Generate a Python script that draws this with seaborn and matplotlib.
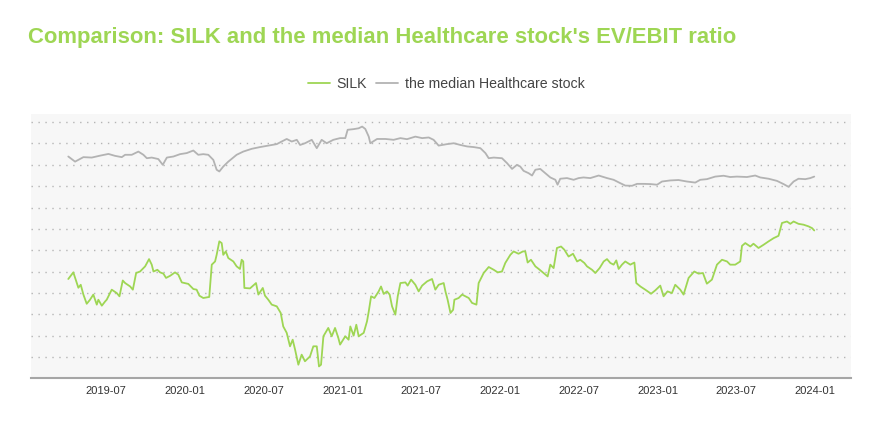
import pandas as pd
import matplotlib
matplotlib.use("Agg")
import matplotlib.pyplot as plt
import matplotlib.dates as mdates
import seaborn as sns

# values (decimal years, ratio in grid units)
silk_t = [2019.256, 2019.288, 2019.320, 2019.335, 2019.352, 2019.373, 2019.394, 2019.415, 2019.437, 2019.447,
          2019.469, 2019.490, 2019.500, 2019.532, 2019.564, 2019.581, 2019.602, 2019.617, 2019.649, 2019.666,
          2019.687, 2019.712, 2019.744, 2019.769, 2019.786, 2019.797, 2019.822, 2019.839, 2019.860, 2019.877,
          2019.903, 2019.934, 2019.955, 2019.977, 2020.019, 2020.051, 2020.072, 2020.089, 2020.114, 2020.152,
          2020.168, 2020.189, 2020.199, 2020.216, 2020.231, 2020.241, 2020.257, 2020.273, 2020.305, 2020.326,
          2020.347, 2020.358, 2020.368, 2020.375, 2020.411, 2020.449, 2020.464, 2020.492, 2020.506, 2020.527,
          2020.549, 2020.581, 2020.606, 2020.622, 2020.644, 2020.665, 2020.682, 2020.697, 2020.718, 2020.739,
          2020.760, 2020.792, 2020.813, 2020.835, 2020.849, 2020.862, 2020.877, 2020.908, 2020.930, 2020.951,
          2020.972, 2020.983, 2021.014, 2021.035, 2021.046, 2021.067, 2021.084, 2021.099, 2021.131, 2021.152,
          2021.163, 2021.178, 2021.199, 2021.226, 2021.241, 2021.258, 2021.279, 2021.296, 2021.311, 2021.332,
          2021.347, 2021.364, 2021.396, 2021.410, 2021.432, 2021.459, 2021.480, 2021.502, 2021.534, 2021.565,
          2021.586, 2021.607, 2021.639, 2021.650, 2021.664, 2021.682, 2021.699, 2021.707, 2021.734, 2021.756,
          2021.777, 2021.798, 2021.819, 2021.847, 2021.861, 2021.893, 2021.925, 2021.957, 2021.982, 2022.010,
          2022.031, 2022.063, 2022.084, 2022.115, 2022.143, 2022.158, 2022.173, 2022.194, 2022.222, 2022.243,
          2022.274, 2022.300, 2022.317, 2022.338, 2022.359, 2022.385, 2022.406, 2022.433, 2022.461, 2022.487,
          2022.507, 2022.533, 2022.550, 2022.582, 2022.603, 2022.630, 2022.656, 2022.677, 2022.698, 2022.719,
          2022.736, 2022.751, 2022.772, 2022.793, 2022.825, 2022.851, 2022.863, 2022.889, 2022.920, 2022.957,
          2022.984, 2023.016, 2023.037, 2023.062, 2023.090, 2023.111, 2023.143, 2023.164, 2023.196, 2023.232,
          2023.259, 2023.287, 2023.312, 2023.344, 2023.376, 2023.408, 2023.440, 2023.460, 2023.492, 2023.524,
          2023.535, 2023.556, 2023.588, 2023.608, 2023.640, 2023.672, 2023.704, 2023.736, 2023.767, 2023.789,
          2023.821, 2023.842, 2023.863, 2023.894, 2023.926, 2023.958, 2023.980, 2023.994]
silk_v = [4.66, 4.97, 4.25, 4.39, 3.93, 3.50, 3.69, 3.93, 3.46, 3.69,
          3.41, 3.61, 3.69, 4.16, 4.00, 3.85, 4.59, 4.47, 4.31, 4.16,
          4.94, 5.01, 5.25, 5.59, 5.33, 5.01, 5.09, 4.97, 4.91, 4.71,
          4.81, 4.97, 4.86, 4.50, 4.43, 4.19, 4.16, 3.88, 3.77, 3.82,
          5.33, 5.48, 5.79, 6.42, 6.34, 5.79, 5.95, 5.64, 5.48, 5.25,
          5.13, 5.56, 5.48, 4.24, 4.22, 4.47, 3.93, 4.24, 3.88, 3.69,
          3.46, 3.38, 3.07, 2.44, 2.14, 1.51, 1.82, 1.36, 0.65, 1.12,
          0.81, 1.04, 1.51, 1.51, 0.57, 0.65, 1.98, 2.37, 1.98, 2.37,
          1.90, 1.59, 1.98, 1.82, 2.44, 2.01, 2.52, 1.98, 2.14, 2.68,
          3.14, 3.85, 3.77, 4.08, 4.31, 3.96, 4.08, 3.93, 3.38, 2.99,
          3.85, 4.47, 4.50, 4.35, 4.63, 4.39, 4.08, 4.35, 4.55, 4.66,
          4.16, 4.39, 4.47, 4.08, 3.69, 3.07, 3.22, 3.69, 3.77, 3.93,
          3.85, 3.77, 3.54, 3.46, 4.47, 4.94, 5.22, 5.09, 4.97, 5.01,
          5.41, 5.79, 5.95, 5.84, 5.95, 5.95, 5.43, 5.56, 5.25, 5.13,
          4.94, 4.78, 5.33, 5.17, 6.11, 6.18, 6.03, 5.71, 5.84, 5.48,
          5.56, 5.41, 5.25, 5.09, 4.94, 5.17, 5.48, 5.59, 5.41, 5.33,
          5.53, 5.13, 5.33, 5.48, 5.33, 5.43, 4.47, 4.31, 4.16, 3.97,
          4.13, 4.35, 3.85, 4.08, 4.00, 4.39, 4.16, 3.93, 4.71, 5.01,
          4.91, 4.94, 4.44, 4.63, 5.33, 5.56, 5.48, 5.33, 5.33, 5.48,
          6.21, 6.34, 6.18, 6.31, 6.11, 6.26, 6.42, 6.57, 6.68, 7.28,
          7.35, 7.24, 7.35, 7.24, 7.20, 7.12, 7.04, 6.93]

median_t = [2019.256, 2019.299, 2019.352, 2019.405, 2019.458, 2019.511, 2019.553, 2019.596, 2019.617, 2019.659,
            2019.701, 2019.733, 2019.755, 2019.786, 2019.828, 2019.856, 2019.882, 2019.924, 2019.966, 2020.009,
            2020.051, 2020.082, 2020.114, 2020.146, 2020.178, 2020.199, 2020.216, 2020.241, 2020.273, 2020.326,
            2020.368, 2020.422, 2020.474, 2020.527, 2020.581, 2020.612, 2020.644, 2020.676, 2020.708, 2020.729,
            2020.760, 2020.803, 2020.835, 2020.866, 2020.898, 2020.940, 2020.983, 2021.014, 2021.029, 2021.067,
            2021.099, 2021.121, 2021.141, 2021.163, 2021.173, 2021.216, 2021.269, 2021.321, 2021.364, 2021.406,
            2021.459, 2021.502, 2021.544, 2021.575, 2021.607, 2021.661, 2021.703, 2021.745, 2021.788, 2021.830,
            2021.872, 2021.904, 2021.925, 2021.957, 2022.010, 2022.042, 2022.074, 2022.105, 2022.126, 2022.147,
            2022.179, 2022.201, 2022.222, 2022.253, 2022.285, 2022.317, 2022.349, 2022.363, 2022.380, 2022.423,
            2022.465, 2022.497, 2022.528, 2022.571, 2022.624, 2022.677, 2022.719, 2022.762, 2022.793, 2022.836,
            2022.868, 2022.910, 2022.952, 2022.995, 2023.027, 2023.079, 2023.132, 2023.185, 2023.238, 2023.270,
            2023.312, 2023.365, 2023.418, 2023.460, 2023.503, 2023.567, 2023.619, 2023.651, 2023.704, 2023.757,
            2023.799, 2023.831, 2023.863, 2023.894, 2023.937, 2023.969, 2023.994]
median_v = [10.39, 10.15, 10.36, 10.34, 10.43, 10.51, 10.42, 10.36, 10.47, 10.47,
            10.62, 10.47, 10.31, 10.34, 10.27, 10.00, 10.34, 10.39, 10.50, 10.55,
            10.67, 10.47, 10.50, 10.47, 10.23, 9.77, 9.69, 9.92, 10.15, 10.47,
            10.62, 10.75, 10.83, 10.90, 10.97, 11.09, 11.21, 11.09, 11.17, 10.93,
            11.01, 11.17, 10.78, 11.17, 11.01, 11.17, 11.25, 11.25, 11.64, 11.67,
            11.71, 11.79, 11.68, 11.32, 11.01, 11.21, 11.21, 11.17, 11.25, 11.20,
            11.32, 11.25, 11.28, 11.17, 10.90, 10.97, 11.01, 10.93, 10.86, 10.83,
            10.78, 10.55, 10.31, 10.34, 10.31, 10.08, 9.81, 10.00, 9.92, 9.72,
            9.61, 9.50, 9.77, 9.81, 9.61, 9.41, 9.30, 9.07, 9.35, 9.38,
            9.30, 9.38, 9.41, 9.38, 9.50, 9.38, 9.30, 9.14, 9.03, 9.02,
            9.11, 9.11, 9.10, 9.07, 9.22, 9.27, 9.29, 9.22, 9.17, 9.30,
            9.33, 9.45, 9.49, 9.43, 9.45, 9.43, 9.50, 9.41, 9.35, 9.25,
            9.10, 8.97, 9.22, 9.35, 9.33, 9.38, 9.45]

series_names = ["SILK", "the median Healthcare stock"]
series_colors = ["#9ed654", "#b3b3b3"]


def to_dates(years):
    years = pd.Series(years)
    base = pd.to_datetime(years.astype(int).astype(str) + "-01-01")
    return base + pd.to_timedelta((years - years.astype(int)) * 365.25, unit="D")


df_silk = pd.DataFrame({"date": to_dates(silk_t), "value": silk_v})
df_med = pd.DataFrame({"date": to_dates(median_t), "value": median_v})

sns.set_style("white")
plt.rcParams["font.family"] = ["Liberation Sans", "DejaVu Sans"]

fig = plt.figure(figsize=(8.8, 4.4), dpi=100)
ax = fig.add_axes([0.0352, 0.141, 0.932, 0.6])
ax.set_facecolor("#f7f7f7")

sns.lineplot(data=df_silk, x="date", y="value", ax=ax, color=series_colors[0],
             linewidth=1.3, label=series_names[0])
sns.lineplot(data=df_med, x="date", y="value", ax=ax, color=series_colors[1],
             linewidth=1.3, label=series_names[1])

ax.set_ylim(0.03, 12.38)
ax.set_xlim(to_dates([2019.019])[0], to_dates([2024.229])[0])
ax.set_yticks(range(1, 13))
ax.set_yticklabels([])
ax.tick_params(axis="y", length=0)
ax.yaxis.grid(True, linestyle=(0, (1, 4)), color="#b5b5b5", linewidth=1)
ax.xaxis.grid(False)

ax.xaxis.set_major_locator(mdates.MonthLocator(bymonth=[1, 7]))
ax.xaxis.set_major_formatter(mdates.DateFormatter("%Y-%m"))
ax.tick_params(axis="x", length=4, width=0.8, color="#999999", labelsize=8,
               labelcolor="#333333", pad=2)

for side in ["top", "right", "left"]:
    ax.spines[side].set_visible(False)
ax.spines["bottom"].set_color("#a6a6a6")
ax.spines["bottom"].set_linewidth(1.5)

ax.set_xlabel("")
ax.set_ylabel("")
ax.get_legend().remove()

handles, labels = ax.get_legend_handles_labels()
fig.legend(handles, labels, loc="center", bbox_to_anchor=(0.507, 0.81), ncol=2,
           frameon=False, fontsize=10.2, handlelength=1.6, columnspacing=0.6,
           handletextpad=0.45, labelcolor="#444444")

fig.text(0.032, 0.914, "Comparison: SILK and the median Healthcare stock's EV/EBIT ratio",
         fontsize=15.9, fontweight="bold", color="#9ed654", ha="left", va="center")

fig.savefig("out.png", dpi=100)
